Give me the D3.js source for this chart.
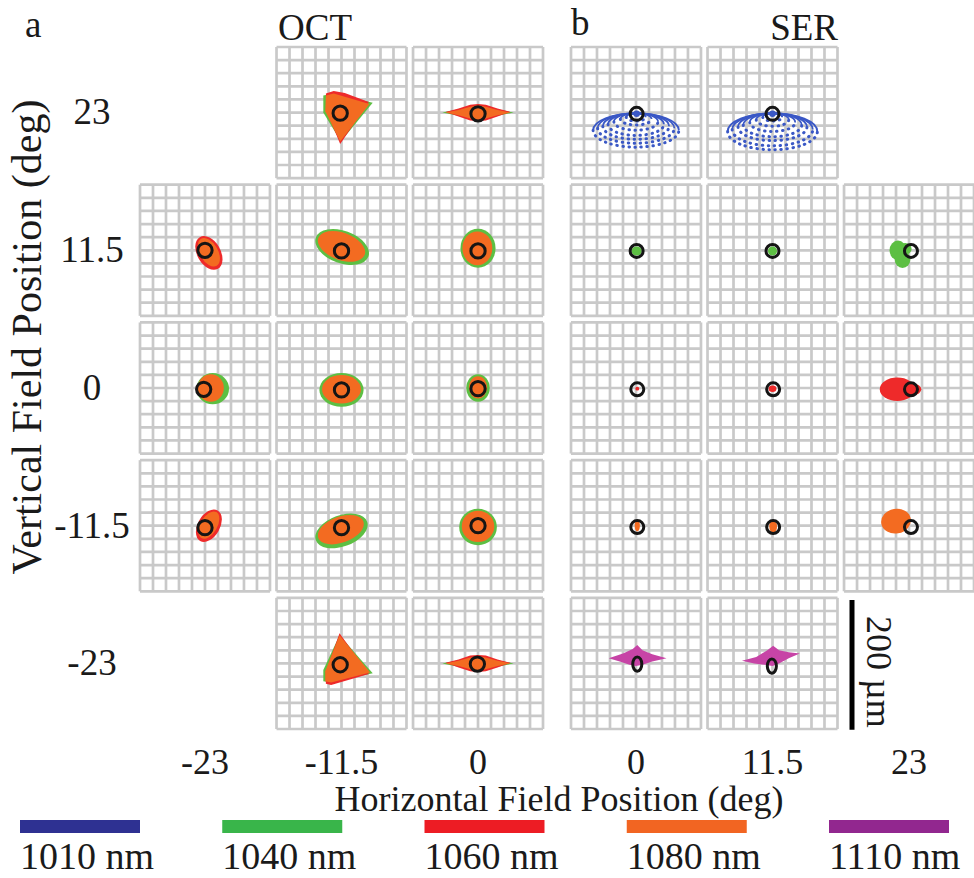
<!DOCTYPE html>
<html>
<head>
<meta charset="utf-8">
<script src="https://cdn.jsdelivr.net/npm/d3@7"></script>
<style>
  body { margin: 0; background: #fff; }
  text { font-family: "Liberation Serif", "DejaVu Serif", serif; fill: #1a1a1a; }
</style>
</head>
<body>
<div id="chart"></div>
<script>
var width = 974, height = 878;

var rowFields = ['23', '11.5', '0', '-11.5', '-23'];
var colFieldsA = ['-23', '-11.5', '0'];
var colFieldsB = ['0', '11.5', '23'];
var wavelengths = ['1010 nm', '1040 nm', '1060 nm', '1080 nm', '1110 nm'];
var legendColors = ['#2e3192', '#39b54a', '#ed1c24', '#f26522', '#92278f'];
var spotColors = ['#3a58c6', '#5dbf43', '#ee2a2a', '#f36b21', '#c744a6'];

// which cells exist: panel, column field, row field
var cells = [
  ['a', '-11.5', '23'], ['a', '0', '23'],
  ['a', '-23', '11.5'], ['a', '-11.5', '11.5'], ['a', '0', '11.5'],
  ['a', '-23', '0'], ['a', '-11.5', '0'], ['a', '0', '0'],
  ['a', '-23', '-11.5'], ['a', '-11.5', '-11.5'], ['a', '0', '-11.5'],
  ['a', '-11.5', '-23'], ['a', '0', '-23'],
  ['b', '0', '23'], ['b', '11.5', '23'],
  ['b', '0', '11.5'], ['b', '11.5', '11.5'], ['b', '23', '11.5'],
  ['b', '0', '0'], ['b', '11.5', '0'], ['b', '23', '0'],
  ['b', '0', '-11.5'], ['b', '11.5', '-11.5'], ['b', '23', '-11.5'],
  ['b', '0', '-23'], ['b', '11.5', '-23']
];

// chief ray marker per cell, in µm from the cell centre (y up)
var chief = [
  ['a', '-11.5', '23', -2, -1, 11, 11], ['a', '0', '23', 0, -2, 11, 11],
  ['a', '-23', '11.5', 0, 0, 11, 11], ['a', '-11.5', '11.5', 0, -1, 11, 11], ['a', '0', '11.5', 0, -1, 11, 11],
  ['a', '-23', '0', -2, -2, 11, 11], ['a', '-11.5', '0', 0, -3, 11, 11], ['a', '0', '0', 0, -1, 11, 11],
  ['a', '-23', '-11.5', 0, -3, 11, 11], ['a', '-11.5', '-11.5', 0, -3, 11, 11], ['a', '0', '-11.5', 0, 0, 11, 11],
  ['a', '-11.5', '-23', -2, -2, 11, 11], ['a', '0', '-23', -1, -1, 11, 11],
  ['b', '0', '23', 1, -2, 10, 10], ['b', '11.5', '23', 0, -2, 10, 10],
  ['b', '0', '11.5', 1, -1, 10, 10], ['b', '11.5', '11.5', 0, -1, 10, 10], ['b', '23', '11.5', 3, -1, 10, 10],
  ['b', '0', '0', 2, -2, 10, 10], ['b', '11.5', '0', 1, -2, 10, 10], ['b', '23', '0', 3, -2, 10, 10],
  ['b', '0', '-11.5', 2, -2, 10, 10], ['b', '11.5', '-11.5', 1, -2, 10, 10], ['b', '23', '-11.5', 3, -2, 10, 10],
  ['b', '0', '-23', 2, -1, 7, 11], ['b', '11.5', '-23', -1, -4, 7, 11]
];

// elliptical spots: panel, col, row, wavelength index, x, y, rx, ry, angle (µm, deg)
var ellipseSpots = [
  ['a', '-23', '11.5', 2, 6, -4, 18, 28, -30], ['a', '-23', '11.5', 3, 6, -3, 14, 24, -30],
  ['a', '-11.5', '11.5', 1, 1, 5, 43, 25, 20], ['a', '-11.5', '11.5', 3, 0, 6, 38, 21, 20],
  ['a', '0', '11.5', 1, 0, 3, 27, 30, 0], ['a', '0', '11.5', 3, -1, 3, 23, 26, 0],
  ['a', '-23', '0', 1, 12, -1, 25, 24, 0], ['a', '-23', '0', 3, 9, 0, 20, 21, 0],
  ['a', '-11.5', '0', 1, 0, -3, 34, 26, 0], ['a', '-11.5', '0', 3, 0, -2, 30, 22, 0],
  ['a', '0', '0', 1, 0, 0, 18, 21, 0], ['a', '0', '0', 3, 0, 1, 14, 17, 0],
  ['a', '-23', '-11.5', 2, 6, 0, 17, 27, 30], ['a', '-23', '-11.5', 3, 6, 1, 13, 23, 30],
  ['a', '-11.5', '-11.5', 1, 0, -8, 42, 24, -20], ['a', '-11.5', '-11.5', 3, -1, -6, 37, 20, -20],
  ['a', '0', '-11.5', 1, 0, -2, 29, 28, 0], ['a', '0', '-11.5', 3, 0, -1, 25, 24, 0],
  ['b', '0', '23', 0, 1, -2, 5, 5, 0], ['b', '11.5', '23', 0, 0, -2, 5, 5, 0],
  ['b', '0', '11.5', 1, 1, -1, 8, 7, 0], ['b', '11.5', '11.5', 1, 0, -1, 7, 7, 0],
  ['b', '23', '11.5', 1, -17, 0, 13, 15, 0], ['b', '23', '11.5', 1, -10, -14, 12, 13, 0], ['b', '23', '11.5', 1, -6, 2, 10, 9, 0],
  ['b', '0', '0', 2, 2, -1, 3, 3, 0], ['b', '11.5', '0', 2, 0, -1, 6, 5, 0],
  ['b', '23', '0', 2, -18, -2, 27, 18, 0], ['b', '23', '0', 2, 6, -2, 13, 9, 0],
  ['b', '0', '-11.5', 3, 2, 0, 4, 9, 0], ['b', '11.5', '-11.5', 3, 1, -1, 6, 10, 0],
  ['b', '23', '-11.5', 3, -20, 7, 23, 19, -10]
];

// polygon spots (µm outlines)
var triTop = {
  green: [[-28, 26], [-12, 29], [48, 15], [-1, -44], [-28, 0]],
  red: [[-24, 29], [-12, 33], [5, 30], [42, 16], [-2, -48], [-23, 2]],
  orange: [[-24, 26], [-12, 29], [43, 13], [-2, -44], [-25, 2]]
};
var triBottom = {
  green: [[-3, 43], [48, -15], [-16, -29], [-28, -27], [-28, -10]],
  red: [[-3, 46], [42, -16], [-16, -33], [-24, -31], [-24, -12]],
  orange: [[-3, 43], [44, -14], [-16, -29], [-25, -27], [-25, -12]]
};
var spindle = {
  green: [[-55, 0], [-30, 5], [-12, 10], [0, 12], [12, 10], [30, 5], [55, 0], [30, -5], [12, -10], [0, -12], [-12, -10], [-30, -5]],
  red: [[-50, 1], [-30, 6], [-12, 12], [0, 13], [12, 12], [30, 6], [50, 1], [30, -6], [12, -12], [0, -13], [-12, -12], [-30, -6]],
  orange: [[-50, 0], [-30, 4], [-12, 9], [0, 11], [12, 9], [30, 4], [50, 0], [30, -4], [12, -9], [0, -11], [-12, -9], [-30, -4]]
};
var hatLeft = [[-42, 8], [-20, 15], [-5, 22], [2, 28], [10, 20], [25, 14], [47, 8], [25, 3], [10, -2], [0, -4], [-10, -2], [-25, 3]];
var hatRight = [[-47, 4], [-25, 10], [-8, 20], [1, 27], [10, 20], [25, 17], [42, 15], [25, 8], [10, 0], [0, -4], [-12, -2], [-28, 0]];

var polySpots = [
  ['a', '-11.5', '23', 1, triTop.green], ['a', '-11.5', '23', 2, triTop.red], ['a', '-11.5', '23', 3, triTop.orange],
  ['a', '0', '23', 1, spindle.green], ['a', '0', '23', 2, spindle.red], ['a', '0', '23', 3, spindle.orange],
  ['a', '-11.5', '-23', 1, triBottom.green], ['a', '-11.5', '-23', 2, triBottom.red], ['a', '-11.5', '-23', 3, triBottom.orange],
  ['a', '0', '-23', 1, spindle.green], ['a', '0', '-23', 2, spindle.red], ['a', '0', '-23', 3, spindle.orange],
  ['b', '0', '-23', 4, hatLeft], ['b', '11.5', '-23', 4, hatRight]
];

// ring fans at 1010 nm: panel, col, row, x, y, rx, ry
var ringSpots = [
  ['b', '0', '23', 0, -27, 66, 26], ['b', '0', '23', 0, -24, 59, 23], ['b', '0', '23', 0, -21, 51, 20],
  ['b', '0', '23', 0, -18, 43, 17], ['b', '0', '23', 0, -14, 34, 13], ['b', '0', '23', 0, -10, 24, 9],
  ['b', '0', '23', 0, -7, 15, 6],
  ['b', '11.5', '23', 0, -29, 69, 28], ['b', '11.5', '23', 0, -26, 62, 25], ['b', '11.5', '23', 0, -22, 53, 21],
  ['b', '11.5', '23', 0, -19, 45, 18], ['b', '11.5', '23', 0, -15, 35, 14], ['b', '11.5', '23', 0, -11, 25, 10],
  ['b', '11.5', '23', 0, -7, 15, 6]
];

var gridTicks = [-100, -80, -60, -40, -20, 0, 20, 40, 60, 80, 100];

var svg = d3.select('#chart').append('svg')
  .attr('width', width)
  .attr('height', height);

var x = {
  a: d3.scaleBand().domain(colFieldsA).range([140, 543]).paddingInner(0.048),
  b: d3.scaleBand().domain(colFieldsB).range([571, 974]).paddingInner(0.048)
};
var y = d3.scaleBand().domain(rowFields).range([47, 729]).paddingInner(0.048);

var ux = d3.scaleLinear().domain([-100, 100]).range([0, x.a.bandwidth()]);
var uy = d3.scaleLinear().domain([-100, 100]).range([y.bandwidth(), 0]);
var k = (ux(100) - ux(-100)) / 200;

function key(p, c, r) { return p + '|' + c + '|' + r; }

var cellG = {};
cells.forEach(function(d) {
  var g = svg.append('g')
    .attr('class', 'cell')
    .attr('transform', 'translate(' + x[d[0]](d[1]) + ',' + y(d[2]) + ')');
  g.selectAll('line.h').data(gridTicks).enter().append('line')
    .attr('x1', ux(-100)).attr('x2', ux(100))
    .attr('y1', function(t) { return uy(t); }).attr('y2', function(t) { return uy(t); })
    .attr('stroke', '#c9c9c9').attr('stroke-width', 2.7);
  g.selectAll('line.v').data(gridTicks).enter().append('line')
    .attr('y1', uy(-100)).attr('y2', uy(100))
    .attr('x1', function(t) { return ux(t); }).attr('x2', function(t) { return ux(t); })
    .attr('stroke', '#c9c9c9').attr('stroke-width', 2.7);
  cellG[key(d[0], d[1], d[2])] = g;
});

// half ellipse arc: upper (sweep 1) or lower (sweep 0)
function halfArc(d, sweep) {
  var cx = ux(d[3]), cy = uy(d[4]), rx = d[5] * k, ry = d[6] * k;
  return 'M' + (cx - rx) + ',' + cy + 'A' + rx + ',' + ry + ' 0 0 ' + sweep + ' ' + (cx + rx) + ',' + cy;
}

ringSpots.forEach(function(d) {
  var g = cellG[key(d[0], d[1], d[2])];
  g.append('path')
    .attr('d', halfArc(d, 1))
    .attr('fill', 'none')
    .attr('stroke', spotColors[0])
    .attr('stroke-width', 1.8);
  g.append('path')
    .attr('d', halfArc(d, 0))
    .attr('fill', 'none')
    .attr('stroke', spotColors[0])
    .attr('stroke-width', 3)
    .attr('stroke-linecap', 'round')
    .attr('stroke-dasharray', '0.5 5.5');
});

ellipseSpots.forEach(function(d) {
  cellG[key(d[0], d[1], d[2])].append('ellipse')
    .attr('transform', 'translate(' + ux(d[4]) + ',' + uy(d[5]) + ') rotate(' + d[8] + ')')
    .attr('rx', d[6] * k).attr('ry', d[7] * k)
    .attr('fill', spotColors[d[3]]);
});

var outline = d3.line()
  .x(function(p) { return ux(p[0]); })
  .y(function(p) { return uy(p[1]); })
  .curve(d3.curveLinearClosed);

polySpots.forEach(function(d) {
  cellG[key(d[0], d[1], d[2])].append('path')
    .attr('d', outline(d[4]))
    .attr('fill', spotColors[d[3]]);
});

chief.forEach(function(d) {
  cellG[key(d[0], d[1], d[2])].append('ellipse')
    .attr('cx', ux(d[3])).attr('cy', uy(d[4]))
    .attr('rx', d[5] * k).attr('ry', d[6] * k)
    .attr('fill', 'none')
    .attr('stroke', '#151515')
    .attr('stroke-width', 3);
});

// scale bar, 200 µm
var barTop = y('-23') + 2;
svg.append('line')
  .attr('x1', 852).attr('x2', 852)
  .attr('y1', barTop).attr('y2', barTop + 200 * k)
  .attr('stroke', '#000').attr('stroke-width', 5);
svg.append('text')
  .attr('transform', 'translate(867,' + (barTop + 16) + ') rotate(90)')
  .attr('font-size', 36)
  .text('200 µm');

// axes
var fs = 37;
['a', 'b'].forEach(function(p) {
  var ax = svg.append('g')
    .attr('transform', 'translate(0,' + 761 + ')')
    .call(d3.axisBottom(x[p]).tickSize(0).tickPadding(0));
  ax.select('.domain').remove();
  ax.attr('font-family', null).attr('font-size', null);
  ax.selectAll('text')
    .attr('dy', '0.35em')
    .style('font-size', '36px')
    .attr('fill', null);
});

var ay = svg.append('g')
  .attr('transform', 'translate(92,0)')
  .call(d3.axisLeft(y).tickSize(0).tickPadding(0));
ay.select('.domain').remove();
ay.attr('font-family', null).attr('font-size', null);
ay.selectAll('text')
  .attr('x', 0)
  .attr('text-anchor', 'middle')
  .attr('dy', '0.32em')
  .style('font-size', fs + 'px')
  .attr('fill', null);

svg.append('text')
  .attr('x', 559).attr('y', 811)
  .attr('text-anchor', 'middle')
  .attr('font-size', 36)
  .text('Horizontal Field Position (deg)');

svg.append('text')
  .attr('transform', 'translate(41,337) rotate(-90)')
  .attr('text-anchor', 'middle')
  .attr('font-size', 42)
  .text('Vertical Field Position (deg)');

// panel labels
svg.append('text').attr('x', 25).attr('y', 37).attr('font-size', fs).text('a');
svg.append('text').attr('x', 278).attr('y', 40).attr('font-size', fs).text('OCT');
svg.append('text').attr('x', 571).attr('y', 35).attr('font-size', fs).text('b');
svg.append('text').attr('x', 838).attr('y', 40).attr('text-anchor', 'end').attr('font-size', fs).text('SER');

// legend
var lx = d3.scalePoint().domain(wavelengths).range([20, 829]);
var leg = svg.append('g').attr('class', 'legend');
leg.selectAll('rect').data(wavelengths).enter().append('rect')
  .attr('x', function(d) { return lx(d); })
  .attr('y', 820)
  .attr('width', 120)
  .attr('height', 13)
  .attr('fill', function(d, i) { return legendColors[i]; });
leg.selectAll('text').data(wavelengths).enter().append('text')
  .attr('x', function(d) { return lx(d); })
  .attr('y', 869)
  .attr('font-size', 38)
  .text(function(d) { return d; });
</script>
</body>
</html>
